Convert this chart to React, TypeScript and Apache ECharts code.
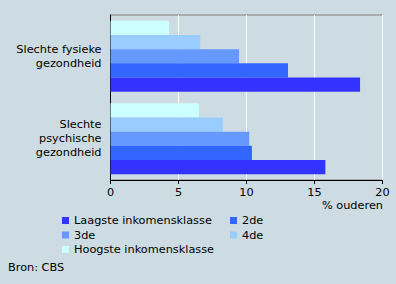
import React, { useEffect, useRef } from "react";
import * as echarts from "echarts";

const categories = ["Slechte fysieke\ngezondheid", "Slechte\npsychische\ngezondheid"];
const seriesNames = ["Laagste inkomensklasse", "2de", "3de", "4de", "Hoogste inkomensklasse"];
const laagste = [18.35, 15.8];
const tweede = [13.05, 10.4];
const derde = [9.45, 10.2];
const vierde = [6.6, 8.25];
const hoogste = [4.3, 6.5];
const colors = ["#3333ff", "#3366ff", "#6699ff", "#99ccff", "#ccffff"];
const xTicks = { min: 0, max: 20, interval: 5 };

const FONT = "DejaVu Sans";
const FS = 11.3;

export default function App() {
  const ref = useRef<HTMLDivElement>(null);
  useEffect(() => {
    if (!ref.current) return;
    const chart = echarts.init(ref.current, undefined, { renderer: "svg" });
    const values = [laagste, tweede, derde, vierde, hoogste];
    const legendText = { fontFamily: FONT, fontSize: FS, color: "#000", lineHeight: 14 };
    const order = [4, 3, 2, 1, 0];
    chart.setOption({
      animation: false,
      backgroundColor: "#cddce2",
      textStyle: { fontFamily: FONT, color: "#000" },
      grid: {
        left: 110.5,
        right: 13.5,
        top: 15,
        bottom: 104,
        outerBoundsMode: "none",
        containLabel: false,
        show: true,
        borderColor: "#808080",
        borderWidth: 1,
        backgroundColor: "transparent",
      },
      legend: [
        {
          orient: "vertical",
          left: 62,
          top: 213.5,
          padding: 0,
          itemWidth: 7,
          itemHeight: 7,
          itemGap: 0.5,
          icon: "rect",
          textStyle: legendText,
          data: [seriesNames[0], seriesNames[2], seriesNames[4]],
        },
        {
          orient: "vertical",
          left: 230,
          top: 213.5,
          padding: 0,
          itemWidth: 7,
          itemHeight: 7,
          itemGap: 0.5,
          icon: "rect",
          textStyle: legendText,
          data: [seriesNames[1], seriesNames[3]],
        },
      ],
      xAxis: {
        type: "value",
        min: xTicks.min,
        max: xTicks.max,
        interval: xTicks.interval,
        axisLine: { show: true, lineStyle: { color: "#000", width: 1 } },
        axisTick: { show: true, length: 4, lineStyle: { color: "#000" } },
        axisLabel: { fontFamily: FONT, fontSize: FS, color: "#000", margin: 7 },
        splitLine: { show: true, lineStyle: { color: "#ffffff", width: 1 } },
      },
      yAxis: {
        type: "category",
        inverse: true,
        data: categories,
        axisLine: { show: true, lineStyle: { color: "#000", width: 1 } },
        axisTick: { show: false },
        axisLabel: { fontFamily: FONT, fontSize: FS, color: "#000", lineHeight: 14, margin: 9, align: "right" },
        splitLine: { show: false },
      },
      series: order.map((i) => ({
        name: seriesNames[i],
        type: "bar",
        data: values[i],
        barGap: "0%",
        barCategoryGap: "14%",
        itemStyle: { color: colors[i] },
      })),
      graphic: [
        {
          type: "text",
          right: 13,
          top: 200,
          style: { text: "% ouderen", font: `${FS}px "${FONT}"`, fill: "#000" },
        },
        {
          type: "text",
          left: 8,
          top: 262,
          style: { text: "Bron: CBS", font: `${FS}px "${FONT}"`, fill: "#000" },
        },
      ],
    });
    return () => chart.dispose();
  }, []);
  return <div ref={ref} style={{ width: 396, height: 284, position: "absolute", left: 0, top: 0 }} />;
}
